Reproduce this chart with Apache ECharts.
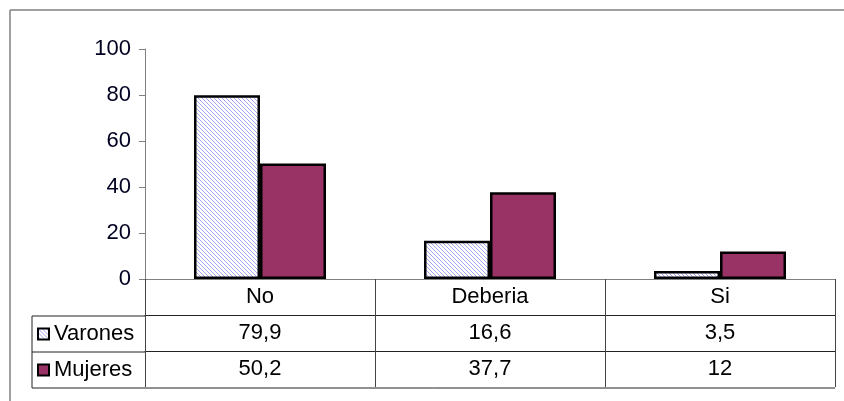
<!DOCTYPE html>
<html>
<head>
<meta charset="utf-8">
<script src="https://cdn.jsdelivr.net/npm/echarts@6/dist/echarts.min.js"></script>
<style>
  html, body { margin: 0; padding: 0; background: #fff; }
  #chart { width: 844px; height: 401px; }
</style>
</head>
<body>
<div id="chart"></div>
<script>
const categories = ["No", "Deberia", "Si"];
const varones = [79.9, 16.6, 3.5];
const mujeres = [50.2, 37.7, 12];
const yTicks = [0, 20, 40, 60, 80, 100];

const FONT = "Liberation Sans, Arial, sans-serif";
const FS = 22;
const fmt = v => String(v).replace(".", ",");

// hatch fill like the old spreadsheet pattern
function hatch() {
    const c = document.createElement("canvas");
    c.width = 4;
    c.height = 4;
    const ctx = c.getContext("2d");
    ctx.fillStyle = "#ffffff";
    ctx.fillRect(0, 0, 4, 4);
    ctx.fillStyle = "#a4a4f4";
    for (let i = 0; i < 4; i++) {
        ctx.fillRect(i, i, 1, 1);
    }
    return { image: c, repeat: "repeat" };
}

function tableAxis(offset, formatter) {
    return {
        type: "category",
        data: categories,
        position: "bottom",
        offset: offset,
        axisLine: { show: true, lineStyle: { color: "#222", width: 1 } },
        axisTick: { show: true, interval: 0, length: 36, lineStyle: { color: "#444", width: 1 } },
        axisLabel: {
            interval: 0,
            margin: 7,
            fontFamily: FONT,
            fontSize: FS,
            color: "#000",
            formatter: formatter
        },
        splitLine: { show: false }
    };
}

const chart = echarts.init(document.getElementById("chart"), null, { renderer: "canvas" });
const varonesFill = hatch();

const line = (x1, y1, x2, y2, color, width) => ({
    type: "line",
    shape: { x1, y1, x2, y2 },
    style: { stroke: color, lineWidth: width },
    silent: true
});

chart.setOption({
    backgroundColor: "#fff",
    animation: false,
    grid: { left: 145, right: 9, top: 49, bottom: 122 },
    legend: {
        orient: "vertical",
        left: 37,
        top: 323,
        padding: 0,
        itemWidth: 11,
        itemHeight: 11,
        itemGap: 14,
        icon: "rect",
        itemStyle: { borderColor: "#000", borderWidth: 2 },
        textStyle: { fontFamily: FONT, fontSize: FS, color: "#000", lineHeight: 22 },
        data: ["Varones", "Mujeres"]
    },
    xAxis: [
        {
            type: "category",
            data: categories,
            position: "bottom",
            axisLine: { show: true, lineStyle: { color: "#808080", width: 1 } },
            axisTick: { show: true, interval: 0, length: 36, lineStyle: { color: "#444", width: 1 } },
            axisLabel: { interval: 0, margin: 7, fontFamily: FONT, fontSize: FS, color: "#000" },
            splitLine: { show: false }
        },
        tableAxis(36, (v, i) => fmt(varones[i])),
        tableAxis(72, (v, i) => fmt(mujeres[i]))
    ],
    yAxis: {
        type: "value",
        min: yTicks[0],
        max: yTicks[yTicks.length - 1],
        interval: 20,
        axisLine: { show: true, lineStyle: { color: "#808080", width: 1 } },
        axisTick: { show: true, inside: false, length: 6, lineStyle: { color: "#808080" } },
        axisLabel: { margin: 14, fontFamily: FONT, fontSize: FS, color: "#000022" },
        splitLine: { show: false }
    },
    series: [
        {
            name: "Varones",
            type: "bar",
            data: varones,
            barWidth: 66,
            barGap: "0%",
            itemStyle: { color: varonesFill, borderColor: "#000", borderWidth: 2.5 }
        },
        {
            name: "Mujeres",
            type: "bar",
            data: mujeres,
            barWidth: 66,
            barGap: "0%",
            itemStyle: { color: "#993366", borderColor: "#000", borderWidth: 2.5 }
        }
    ],
    graphic: [
        // outer frame (cropped on right and bottom)
        line(10, 10, 844, 10, "#808080", 1.5),
        line(10, 10, 10, 401, "#808080", 1.5),
        // legend column of the data table
        line(32, 316, 145, 316, "#222", 1),
        line(32, 352, 145, 352, "#222", 1),
        line(32, 388, 835, 388, "#222", 1),
        line(32, 316, 32, 388, "#222", 1)
    ]
});
</script>
</body>
</html>
